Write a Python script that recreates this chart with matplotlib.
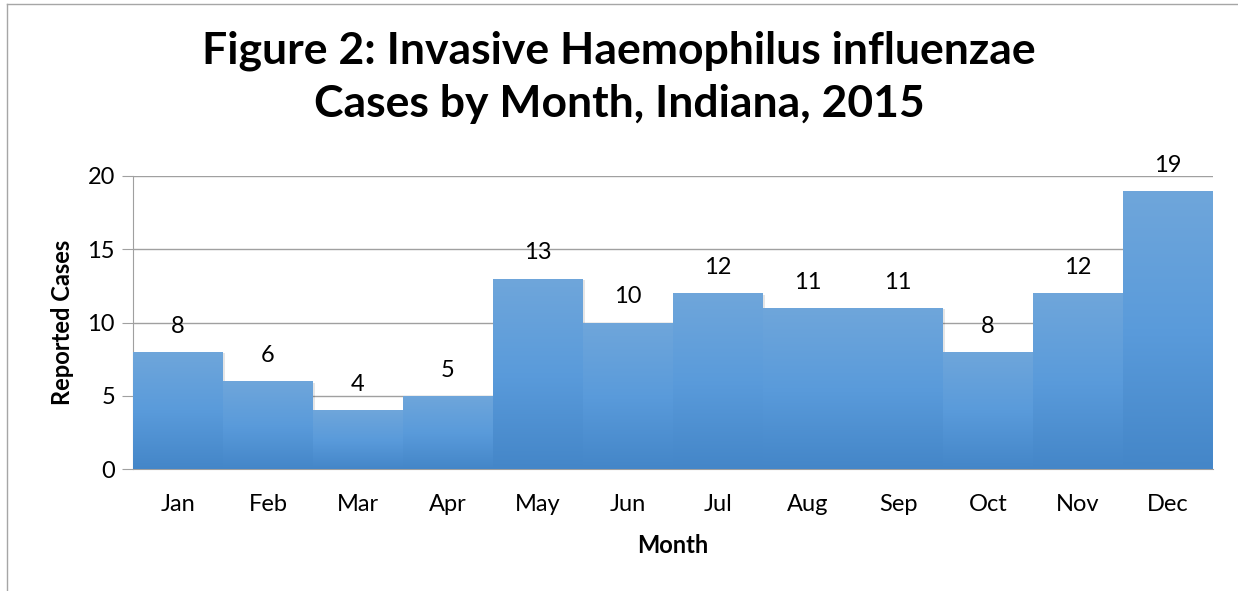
import numpy as np
import matplotlib
matplotlib.use("Agg")
import matplotlib.pyplot as plt
from matplotlib.colors import LinearSegmentedColormap
from matplotlib.patches import Rectangle
from matplotlib.lines import Line2D

months = ["Jan", "Feb", "Mar", "Apr", "May", "Jun", "Jul", "Aug", "Sep", "Oct", "Nov", "Dec"]
cases = [8, 6, 4, 5, 13, 10, 12, 11, 11, 8, 12, 19]
yticks = [0, 5, 10, 15, 20]

title = "Figure 2: Invasive Haemophilus influenzae\nCases by Month, Indiana, 2015"
xlabel = "Month"
ylabel = "Reported Cases"

plt.rcParams['font.family'] = ['Lato', 'DejaVu Sans']

fig = plt.figure(figsize=(12.38, 5.91), dpi=100)
ax = fig.add_axes([133/1238, 1 - 469/591, (1213-133)/1238, (469-176)/591])

# outer frame lines (left and top)
fig.add_artist(Line2D([7/1238, 7/1238], [0, 1 - 4/591], transform=fig.transFigure, color="#a6a6a6", lw=1))
fig.add_artist(Line2D([7/1238, 1], [1 - 4/591, 1 - 4/591], transform=fig.transFigure, color="#a6a6a6", lw=1))

x = np.arange(len(months))

cmap = LinearSegmentedColormap.from_list("g", ["#4486c8", "#5a9bdb", "#6fa6da"])
grad = np.linspace(0, 1, 256).reshape(-1, 1)

for xi, v in zip(x, cases):
    sh = Rectangle((xi - 0.5 + 0.02, -0.1), 1.0, v, facecolor="#000000", alpha=0.10,
                   edgecolor="none", zorder=2)
    ax.add_patch(sh)
    rect = Rectangle((xi - 0.5, 0), 1.0, v, facecolor="none", edgecolor="none", zorder=3)
    ax.add_patch(rect)
    im = ax.imshow(grad, cmap=cmap, extent=[xi - 0.5, xi + 0.5, 0, v], origin="lower",
                   aspect="auto", zorder=3, interpolation="bicubic")
    im.set_clip_path(rect)
    ax.text(xi, v + 1.75, str(v), ha="center", va="center", fontsize=17, color="#000000", zorder=5)

ax.set_aspect("auto")
ax.set_xlim(-0.5, len(months) - 0.5)
ax.set_ylim(0, 20)

ax.set_yticks(yticks)
ax.set_yticklabels([str(t) for t in yticks], fontsize=17)
ax.set_xticks(x)
ax.set_xticklabels(months, fontsize=17)
ax.tick_params(axis="x", length=0, pad=18)
ax.tick_params(axis="y", length=8, color="#a0a0a0", pad=5)
ax.yaxis.grid(True, color="#a0a0a0", lw=1, zorder=0)
ax.set_axisbelow(True)
for s in ["top", "right"]:
    ax.spines[s].set_visible(False)
ax.spines["left"].set_color("#a0a0a0")
ax.spines["bottom"].set_color("#a0a0a0")

ax.set_xlabel(xlabel, fontsize=17, fontweight="bold", labelpad=14)
ax.set_ylabel(ylabel, fontsize=17, fontweight="bold", labelpad=10)

fig.text(0.5, 1 - 77/591, title, ha="center", va="center", fontsize=32, fontweight="bold",
         linespacing=1.4)

fig.savefig("out.png", dpi=100, facecolor="white")
